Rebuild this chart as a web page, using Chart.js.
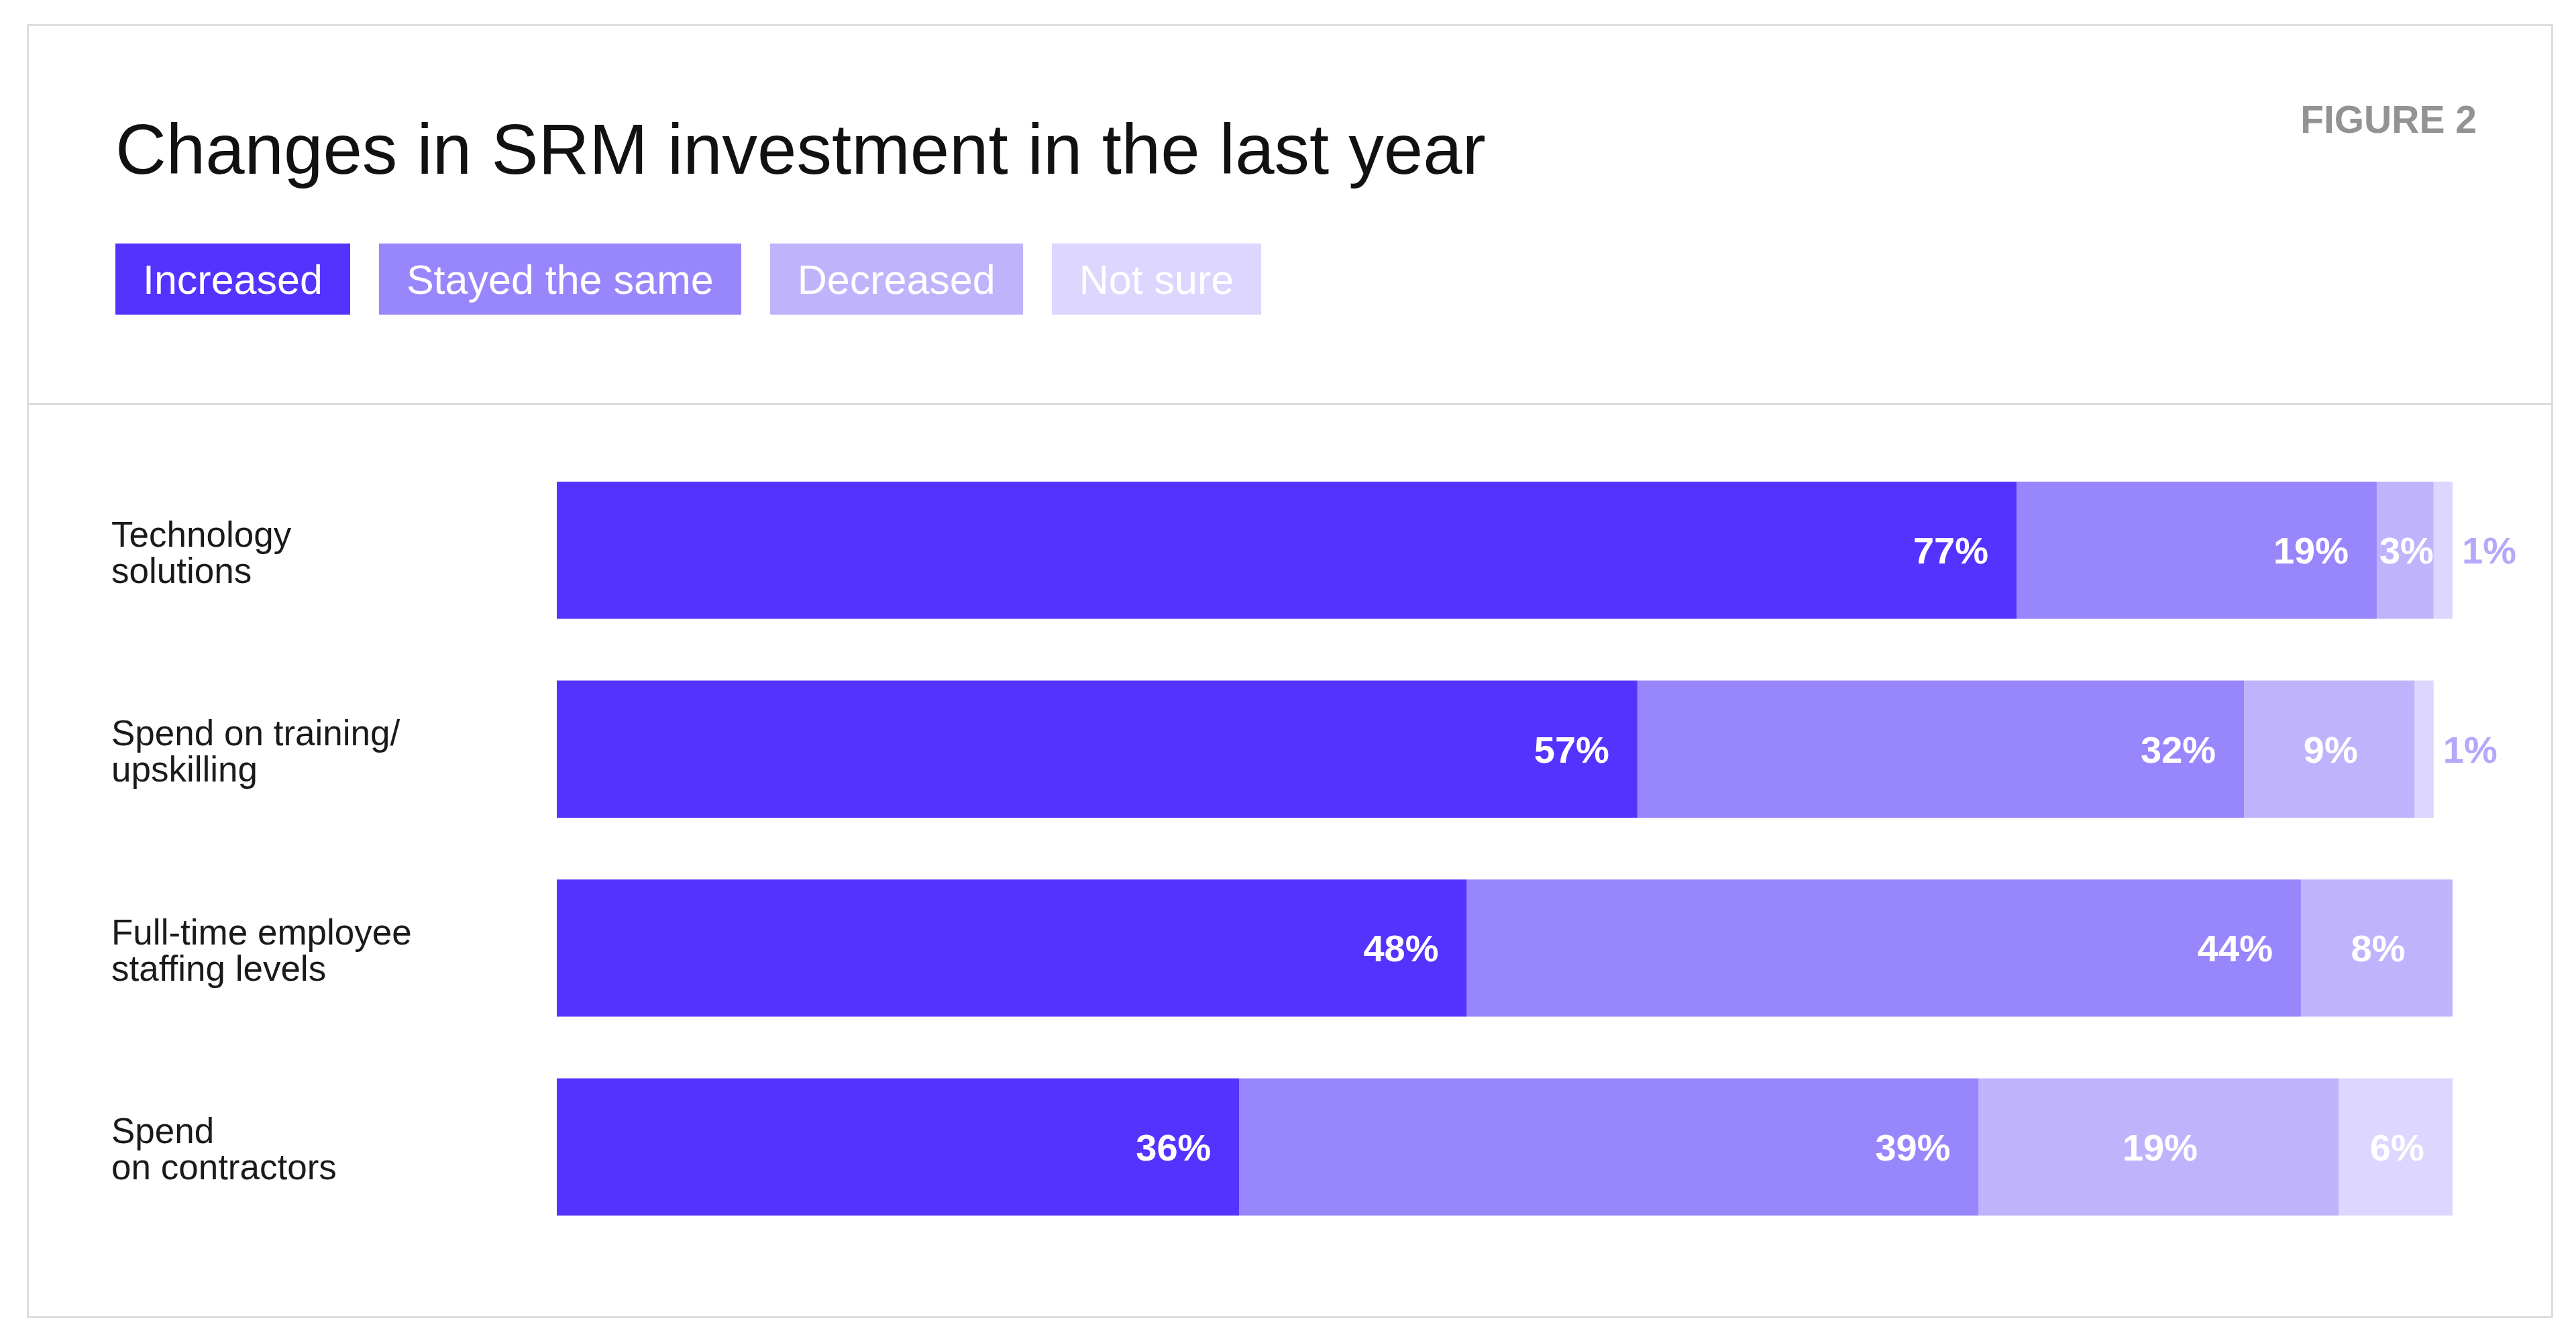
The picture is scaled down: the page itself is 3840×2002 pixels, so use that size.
<!DOCTYPE html>
<html>
<head>
<meta charset="utf-8">
<script src="https://cdn.jsdelivr.net/npm/chart.js@4.4.1/dist/chart.umd.min.js"></script>
<style>
  html, body { margin: 0; padding: 0; background: #ffffff; }
  body { width: 3840px; height: 2002px; position: relative; overflow: hidden; font-family: "Liberation Sans", Arial, sans-serif; }
  #card { position: absolute; left: 40px; top: 36px; width: 3766px; height: 1929px; box-sizing: border-box; border: 3px solid #dcdcdc; }
  #divider { position: absolute; left: 40px; top: 601px; width: 3766px; height: 3px; background: #dcdcdc; }
  #title { position: absolute; left: 172px; top: 170px; font-size: 105px; line-height: 105px; color: #111111; white-space: nowrap; }
  #figure { position: absolute; right: 148px; top: 150px; font-size: 57px; line-height: 57px; font-weight: bold; color: #939393; white-space: nowrap; }
  #legend { position: absolute; left: 172px; top: 363px; display: flex; gap: 43px; }
  .lg { height: 106px; line-height: 108px; padding: 0 41px; font-size: 61px; color: #ffffff; white-space: nowrap; }
  #chart { position: absolute; left: 0; top: 0; }
</style>
</head>
<body>
<div id="card"></div>
<div id="divider"></div>
<div id="title"></div>
<div id="figure"></div>
<div id="legend"></div>
<canvas id="chart" width="3840" height="2002"></canvas>
<script>
const titleText = "Changes in SRM investment in the last year";
const figureLabel = "FIGURE 2";
const categories = [
  ["Technology", "solutions"],
  ["Spend on training/", "upskilling"],
  ["Full-time employee", "staffing levels"],
  ["Spend", "on contractors"]
];
const seriesNames = ["Increased", "Stayed the same", "Decreased", "Not sure"];
const seriesColors = ["#5533FF", "#9886FD", "#BFB4FC", "#DDD6FE"];
const increased = [77, 57, 48, 36];
const stayedSame = [19, 32, 44, 39];
const decreased = [3, 9, 8, 19];
const notSure = [1, 1, null, 6];
const seriesValues = [increased, stayedSame, decreased, notSure];

document.getElementById('title').textContent = titleText;
document.getElementById('figure').textContent = figureLabel;
const legendEl = document.getElementById('legend');
seriesNames.forEach((n, i) => {
  const d = document.createElement('div');
  d.className = 'lg';
  d.style.background = seriesColors[i];
  d.textContent = n;
  legendEl.appendChild(d);
});

const labelSize = 56;
const labelFont = "bold " + labelSize + "px 'Liberation Sans Narrow', 'Arial Narrow', 'Liberation Sans', Arial, sans-serif";

const valueLabels = {
  id: 'valueLabels',
  afterDatasetsDraw(chart) {
    const ctx = chart.ctx;
    ctx.save();
    ctx.font = labelFont;
    ctx.textBaseline = 'alphabetic';
    chart.data.datasets.forEach((ds, di) => {
      const meta = chart.getDatasetMeta(di);
      meta.data.forEach((bar, i) => {
        const v = ds.data[i];
        if (v === null || v === undefined) return;
        const txt = v + '%';
        const left = Math.min(bar.x, bar.base);
        const right = Math.max(bar.x, bar.base);
        const w = right - left;
        const y = bar.y + 0.358 * labelSize;
        if (w < 50) {
          ctx.fillStyle = '#B3A8FA';
          ctx.textAlign = 'left';
          ctx.fillText(txt, right + 14, y);
        } else if (di <= 1) {
          ctx.fillStyle = '#ffffff';
          ctx.textAlign = 'right';
          ctx.fillText(txt, right - 42, y);
        } else {
          ctx.fillStyle = '#ffffff';
          ctx.textAlign = 'center';
          ctx.fillText(txt, (left + right) / 2 + 2, y);
        }
      });
    });
    ctx.restore();
  }
};

new Chart(document.getElementById('chart'), {
  type: 'bar',
  data: {
    labels: categories,
    datasets: seriesNames.map((n, i) => ({
      label: n,
      data: seriesValues[i],
      backgroundColor: seriesColors[i],
      borderWidth: 0,
      categoryPercentage: 1,
      barPercentage: 0.69
    }))
  },
  options: {
    indexAxis: 'y',
    responsive: false,
    animation: false,
    devicePixelRatio: 1,
    layout: { padding: { left: 166, right: 184, top: 672, bottom: 144 } },
    plugins: { legend: { display: false }, tooltip: { enabled: false }, title: { display: false } },
    scales: {
      x: { stacked: true, min: 0, max: 100, display: false },
      y: {
        stacked: true,
        grid: { display: false },
        border: { display: false },
        ticks: {
          crossAlign: 'far',
          padding: 0,
          labelOffset: 7,
          color: '#1a1a1a',
          font: { family: "'Liberation Sans', Arial, sans-serif", size: 53, lineHeight: 1.02 }
        },
        afterFit(scale) { scale.width = 664; }
      }
    }
  },
  plugins: [valueLabels]
});
</script>
</body>
</html>
